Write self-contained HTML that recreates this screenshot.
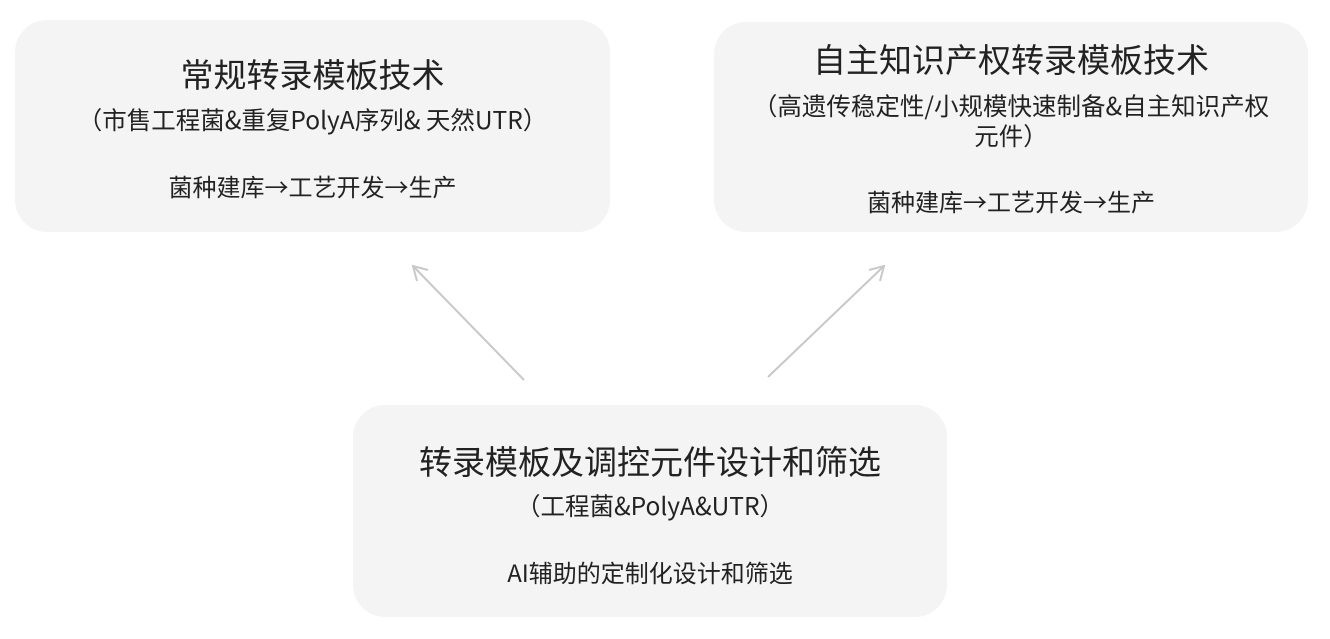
<!DOCTYPE html>
<html><head><meta charset="utf-8"><style>
body{margin:0;width:1330px;height:639px;background:#fff;position:relative;overflow:hidden;font-family:"Noto Sans CJK SC","Liberation Sans",sans-serif;color:#222}
.b{position:absolute;background:#f4f4f4;border-radius:32px;text-align:center}
.t{position:absolute;left:0;right:0;font-size:33px;line-height:40px;white-space:nowrap}
.s{position:absolute;left:0;right:0;font-size:24.5px;line-height:30px;white-space:nowrap}
.p{position:absolute;left:0;right:0;font-size:24px;line-height:30px;white-space:nowrap}
</style></head><body>
<div class="b" style="left:15px;top:20px;width:595px;height:212px">
<div class="t" style="top:33px">常规转录模板技术</div>
<div class="s" style="top:85px">（市售工程菌&amp;重复PolyA序列&amp; 天然UTR）</div>
<div class="p" style="top:151px">菌种建库→工艺开发→生产</div>
</div>
<div class="b" style="left:714px;top:22px;width:594px;height:210px">
<div class="t" style="top:16px">自主知识产权转录模板技术</div>
<div class="s" style="top:69px">（高遗传稳定性/小规模快速制备&amp;自主知识产权<br>元件）</div>
<div class="p" style="top:164px">菌种建库→工艺开发→生产</div>
</div>
<div class="b" style="left:353px;top:405px;width:594px;height:212px">
<div class="t" style="top:35px">转录模板及调控元件设计和筛选</div>
<div class="s" style="top:86px">（工程菌&amp;PolyA&amp;UTR）</div>
<div class="p" style="top:152px">AI辅助的定制化设计和筛选</div>
</div>
<svg width="1330" height="639" style="position:absolute;left:0;top:0">
<g stroke="#c8c8c8" stroke-width="2" fill="none">
<line x1="524" y1="380" x2="413" y2="266"/>
<polyline points="428,270 413,266 417,281"/>
<line x1="768" y1="377" x2="884" y2="266"/>
<polyline points="869,270 884,266 880,281"/>
</g></svg>
</body></html>
